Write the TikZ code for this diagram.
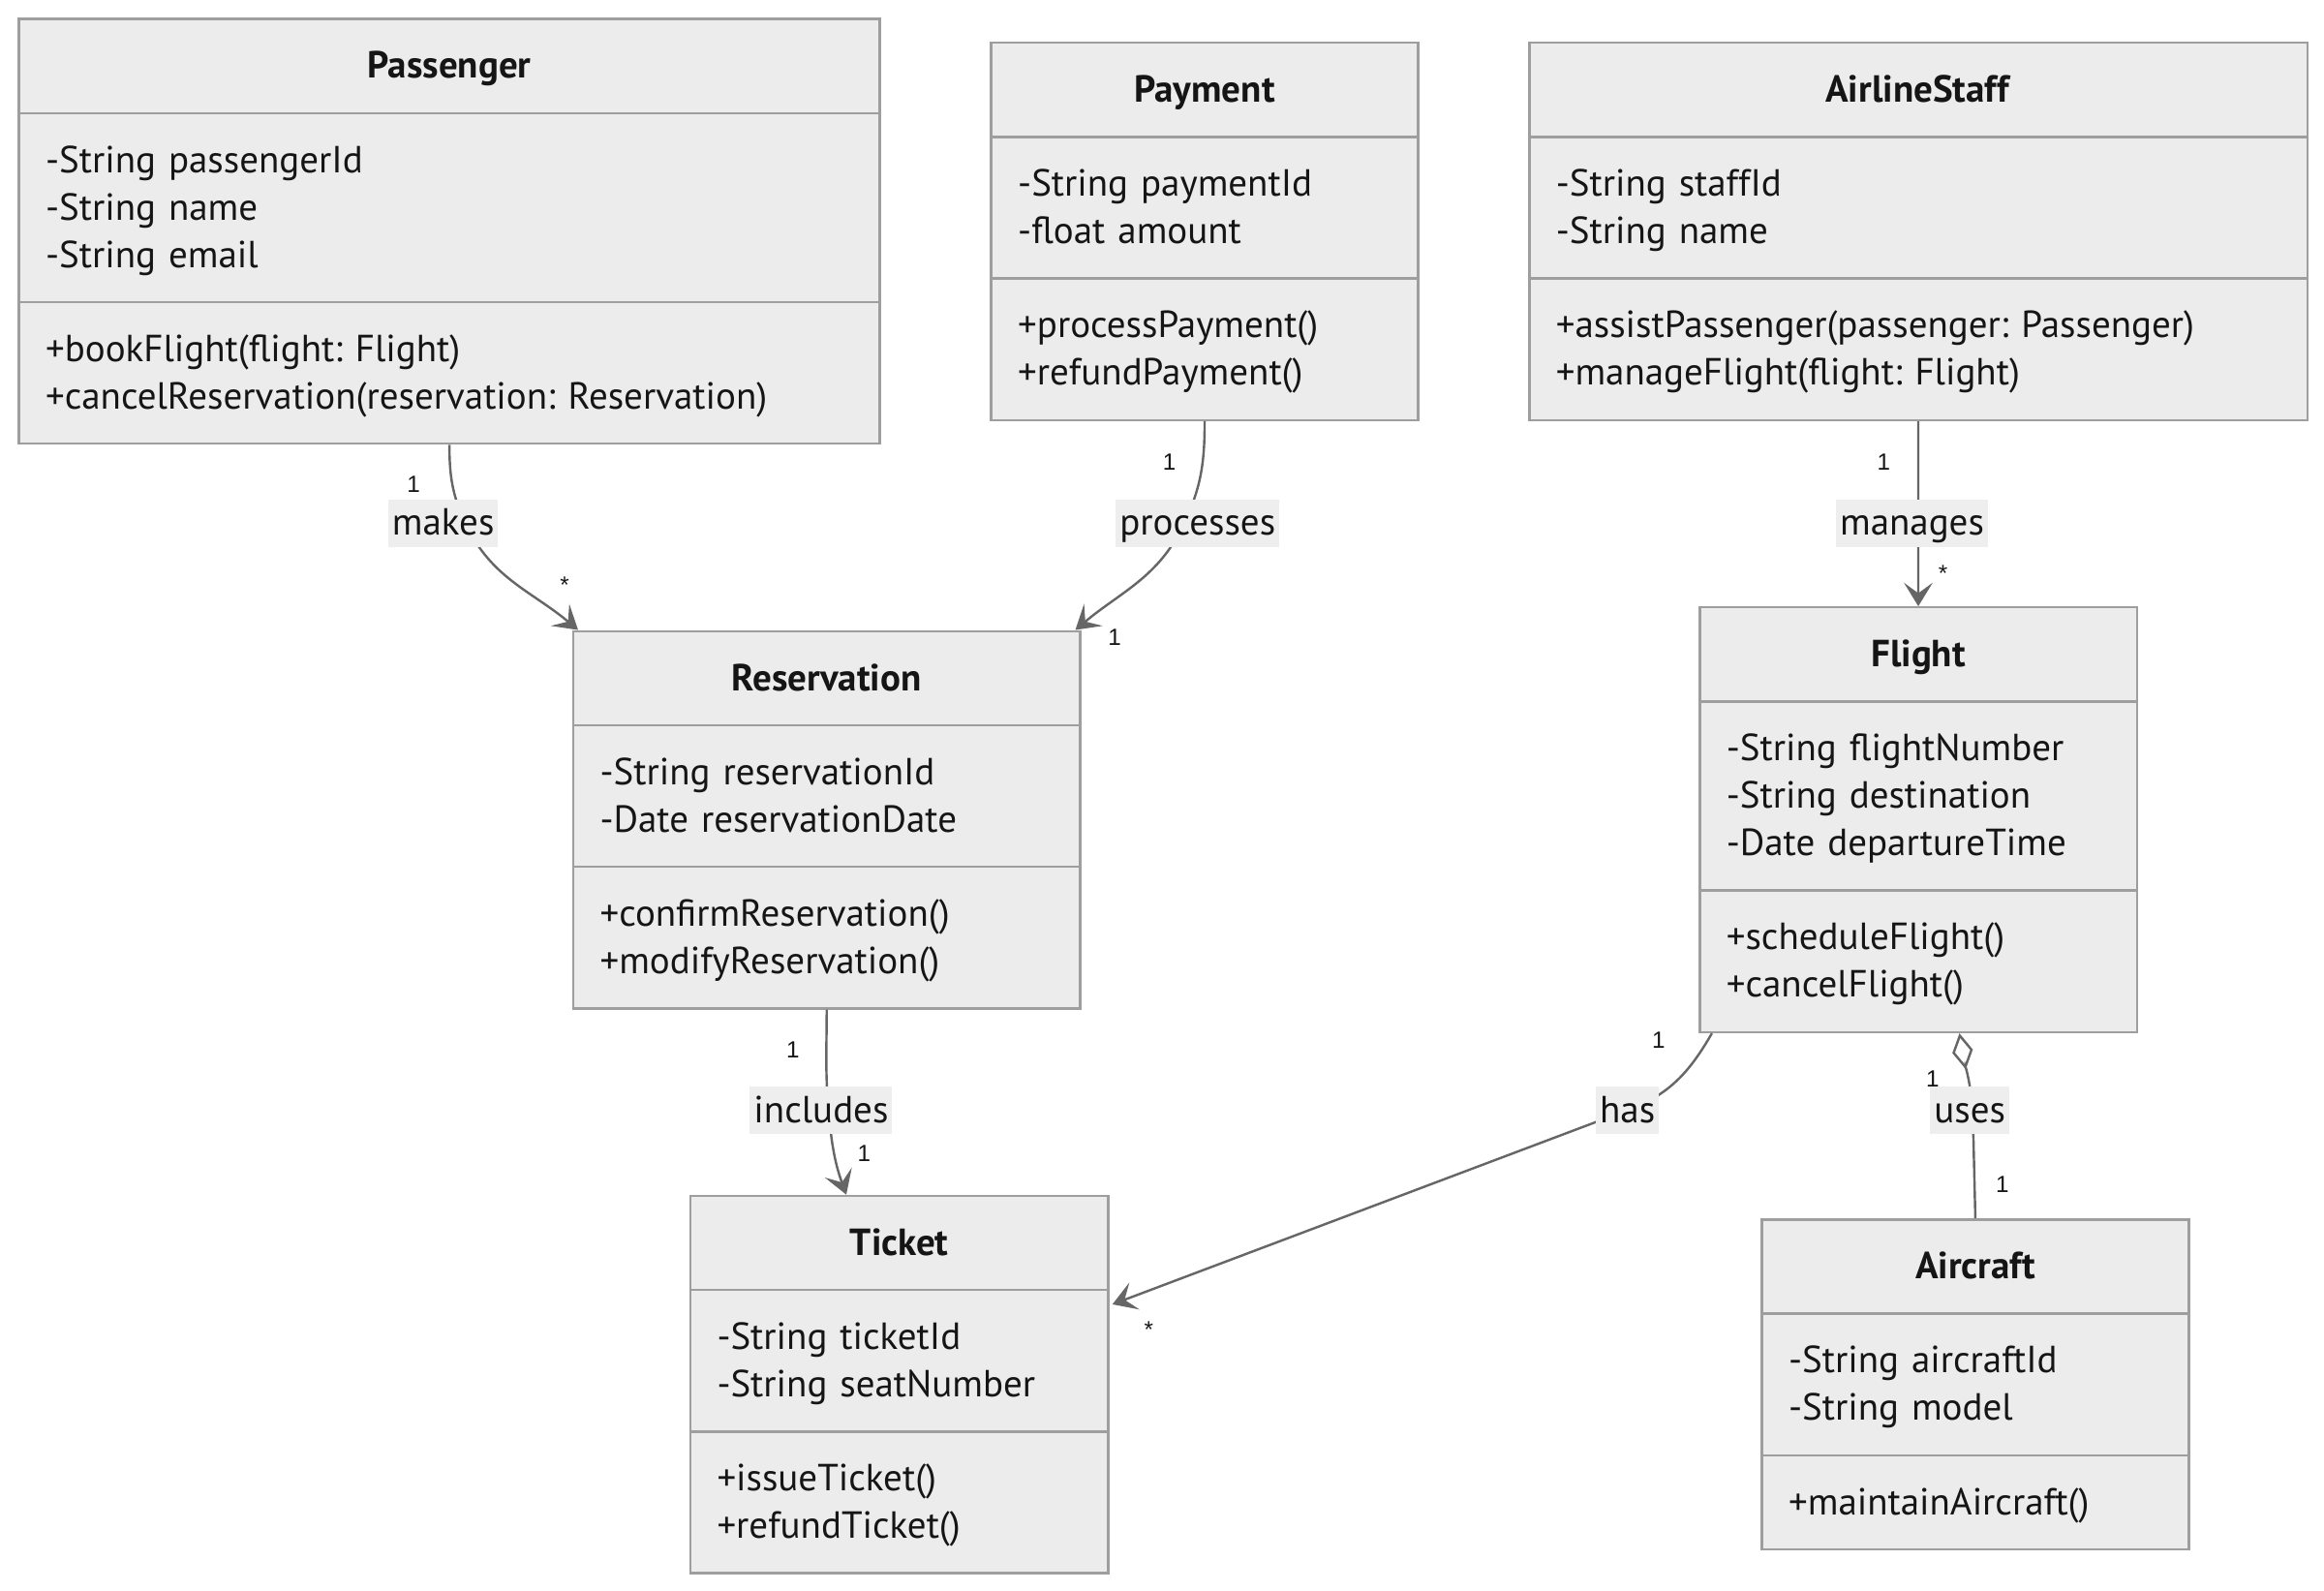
\documentclass[tikz,border=0pt]{standalone}
\usepackage{fontspec}
\setmainfont{PT Sans}
\newfontfamily\multfont{Liberation Sans}
\usetikzlibrary{shapes.multipart,arrows.meta,calc}
\definecolor{boxfill}{HTML}{ECECEC}
\definecolor{boxline}{HTML}{9E9E9E}
\definecolor{edgegray}{HTML}{666666}
\definecolor{labelfill}{HTML}{EEEEEE}
\definecolor{textdark}{HTML}{151515}
\newcommand{\rowstrut}{\rule[-4.4pt]{0pt}{18.2pt}}
\frenchspacing
\begin{document}
\begin{tikzpicture}[x=0.02cm, y=-0.02cm,
    classbox/.style = {rectangle split, rectangle split parts=3, draw=boxline, fill=boxfill, line width=0.9pt, inner xsep=0.36cm, inner ysep=0.3cm, align=left, anchor=north west, text=textdark, font=\fontsize{14.5}{18.2}\selectfont},
    assoc/.style = {draw=edgegray, line width=0.9pt, -{Stealth[length=9pt, width=11pt, inset=4pt]}},
    aggr/.style = {draw=edgegray, line width=0.9pt, {Diamond[open, length=14pt, width=8pt]}-},
    edgelabel/.style = {fill=labelfill, text=textdark, font=\fontsize{14.5}{18.2}\selectfont, inner xsep=1.5pt, inner ysep=0pt, text height=13.8pt, text depth=4.4pt},
    mult/.style = {text=textdark, inner sep=0pt, font=\multfont\fontsize{9}{10}\selectfont}]
    \useasboundingbox (0,0) rectangle (1568,1073);
    % classes
    \node[classbox, text width=10.9cm] (passenger) at (12,12) {\makebox[\linewidth]{\textbf{Passenger}\rowstrut}
        \nodepart{second}\rowstrut-String passengerId\\-String name\\-String email\rowstrut
        \nodepart{third}\rowstrut+bookFlight(flight: Flight)\\+cancelReservation(reservation: Reservation)\rowstrut};
    \node[classbox, text width=5.04cm] (payment) at (668,28) {\makebox[\linewidth]{\textbf{Payment}\rowstrut}
        \nodepart{second}\rowstrut-String paymentId\\-float amount\rowstrut
        \nodepart{third}\rowstrut+processPayment()\\+refundPayment()\rowstrut};
    \node[classbox, text width=9.78cm] (airlinestaff) at (1031,28) {\makebox[\linewidth]{\textbf{AirlineStaff}\rowstrut}
        \nodepart{second}\rowstrut-String staffId\\-String name\rowstrut
        \nodepart{third}\rowstrut+assistPassenger(passenger: Passenger)\\+manageFlight(flight: Flight)\rowstrut};
    \node[classbox, text width=6.12cm] (reservation) at (386,425) {\makebox[\linewidth]{\textbf{Reservation}\rowstrut}
        \nodepart{second}\rowstrut-String reservationId\\-Date reservationDate\rowstrut
        \nodepart{third}\rowstrut+confirmReservation()\\+modifyReservation()\rowstrut};
    \node[classbox, text width=5.18cm] (flight) at (1146,409) {\makebox[\linewidth]{\textbf{Flight}\rowstrut}
        \nodepart{second}\rowstrut-String flightNumber\\-String destination\\-Date departureTime\rowstrut
        \nodepart{third}\rowstrut+scheduleFlight()\\+cancelFlight()\rowstrut};
    \node[classbox, text width=4.92cm] (ticket) at (465,806) {\makebox[\linewidth]{\textbf{Ticket}\rowstrut}
        \nodepart{second}\rowstrut-String ticketId\\-String seatNumber\rowstrut
        \nodepart{third}\rowstrut+issueTicket()\\+refundTicket()\rowstrut};
    \node[classbox, text width=5.04cm] (aircraft) at (1188,822) {\makebox[\linewidth]{\textbf{Aircraft}\rowstrut}
        \nodepart{second}\rowstrut-String aircraftId\\-String model\rowstrut
        \nodepart{third}\rowstrut+maintainAircraft()\rowstrut};

    % relations
    \coordinate (makes-via) at (314,353);
    \coordinate (proc-via) at (799,353);
    \coordinate (incl-via) at (559,749);
    \coordinate (has-via) at (1098,749);
    \coordinate (uses-via) at (1331,749);
    \draw[assoc] (passenger.south) to[out=-90,in=115] (makes-via) to[out=-65,in=140] ($(reservation.north west)+(4,0)$);
    \draw[assoc] (payment.south) to[out=-90,in=65] (proc-via) to[out=-115,in=40] ($(reservation.north east)+(-4,0)$);
    \draw[assoc] (airlinestaff.south) -- (flight.north);
    \draw[assoc] (reservation.south) to[out=-90,in=95] (incl-via) to[out=-85,in=110] ($(ticket.north west)+(106,0)$);
    \draw[assoc] ($(flight.south west)+(9,0)$) to[out=-120,in=20] (has-via) -- ($(ticket.north east)+(2,74)$);
    \draw[aggr] ($(flight.south west)+(176,0)$) to[out=-80,in=95] (uses-via) -- (aircraft.north);

    % labels
    \node[edgelabel] (makes) at (299,353) {makes};
    \node[edgelabel] (processes) at (808,353) {processes};
    \node[edgelabel] (manages) at (1290,353) {manages};
    \node[edgelabel] (includes) at (554,749) {includes};
    \node[edgelabel] (has) at (1098,749) {has};
    \node[edgelabel] (uses) at (1329,749) {uses};

    % multiplicities
    \node[mult] (makes-from) at (279,327) {1};
    \node[mult] (makes-to) at (381,395) {*};
    \node[mult] (proc-from) at (789,312) {1};
    \node[mult] (proc-to) at (752,430) {1};
    \node[mult] (manages-from) at (1271,312) {1};
    \node[mult] (manages-to) at (1311,387) {*};
    \node[mult] (incl-from) at (535,708) {1};
    \node[mult] (incl-to) at (583,778) {1};
    \node[mult] (has-from) at (1119,702) {1};
    \node[mult] (has-to) at (775,897) {*};
    \node[mult] (uses-from) at (1304,728) {1};
    \node[mult] (uses-to) at (1351,799) {1};
\end{tikzpicture}
\end{document}
